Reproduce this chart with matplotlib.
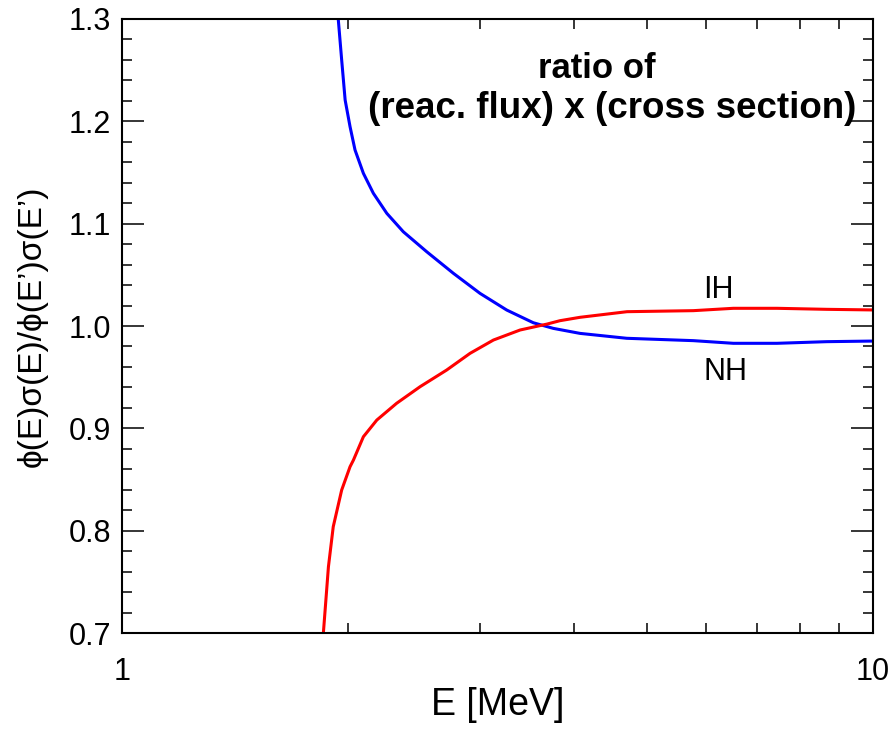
import matplotlib
matplotlib.use("Agg")
from matplotlib import pyplot as plt
from matplotlib.ticker import MultipleLocator, LogLocator, NullFormatter

plt.rcParams['font.family'] = ['Liberation Sans', 'DejaVu Sans']

# NH (blue) ratio
nh_e = [1.941, 1.961, 1.982, 2.012, 2.043, 2.096, 2.161, 2.252, 2.369, 2.545,
        2.762, 2.997, 3.253, 3.529, 3.752, 4.072, 4.70, 5.764, 6.516, 7.45, 8.678, 10.0]
nh_ratio = [1.299, 1.260, 1.2208, 1.1948, 1.1720, 1.1492, 1.1297, 1.1101, 1.0921,
            1.0726, 1.0515, 1.0319, 1.0156, 1.0032, 0.9977, 0.9928, 0.9880, 0.9857,
            0.9831, 0.9831, 0.9847, 0.9853]

# IH (red) ratio
ih_e = [1.854, 1.883, 1.911, 1.961, 2.012, 2.033, 2.096, 2.184, 2.321, 2.494,
        2.706, 2.907, 3.123, 3.389, 3.681, 3.830, 4.072, 4.704, 5.764, 6.516,
        7.45, 8.678, 10.0]
ih_ratio = [0.700, 0.7648, 0.8039, 0.8397, 0.8625, 0.8690, 0.8918, 0.9081, 0.9245,
            0.9407, 0.9570, 0.9733, 0.9863, 0.9961, 1.0019, 1.0052, 1.0085, 1.0140,
            1.0150, 1.0173, 1.0173, 1.0163, 1.0157]

x_ticks = [1, 10]
x_ticklabels = ["1", "10"]
y_ticks = [0.7, 0.8, 0.9, 1.0, 1.1, 1.2, 1.3]

fig = plt.figure(figsize=(8.92, 7.36), dpi=100)
ax = fig.add_axes([0.1368, 0.1399, 0.8419, 0.8343])

ax.plot(nh_e, nh_ratio, color="#0000ff", lw=2.2, solid_joinstyle="round")
ax.plot(ih_e, ih_ratio, color="#ff0000", lw=2.2, solid_joinstyle="round")

ax.set_xscale("log")
ax.set_xlim(1, 10)
ax.set_ylim(0.7, 1.3)

ax.set_xticks(x_ticks)
ax.set_xticklabels(x_ticklabels)
ax.xaxis.set_minor_locator(LogLocator(base=10, subs=range(2, 10)))
ax.xaxis.set_minor_formatter(NullFormatter())
ax.set_yticks(y_ticks)
ax.set_yticklabels([f"{v:.1f}" for v in y_ticks])
ax.yaxis.set_minor_locator(MultipleLocator(0.02))

ax.tick_params(which="both", direction="in", top=True, right=True, width=1.1, labelsize=22)
ax.tick_params(which="major", length=15.5)
ax.tick_params(which="minor", length=7)
ax.tick_params(axis="x", which="major", pad=17)
ax.tick_params(axis="y", which="major", pad=8)
for s in ax.spines.values():
    s.set_linewidth(1.5)

ax.set_xlabel("E [MeV]", fontsize=27, labelpad=0)
ax.set_ylabel("ϕ(E)σ(E)/ϕ(E’)σ(E’)", fontsize=24, labelpad=15)

ax.text(0.6325, 0.920, "ratio of", transform=ax.transAxes, ha="center", va="center",
        fontsize=25, fontweight="bold")
ax.text(0.6525, 0.855, "(reac. flux) x (cross section)", transform=ax.transAxes,
        ha="center", va="center", fontsize=26.5, fontweight="bold")
ax.text(0.7936, 0.5586, "IH", transform=ax.transAxes, ha="center", va="center", fontsize=22)
ax.text(0.803, 0.425, "NH", transform=ax.transAxes, ha="center", va="center", fontsize=22)

fig.savefig("out.png", dpi=100)
